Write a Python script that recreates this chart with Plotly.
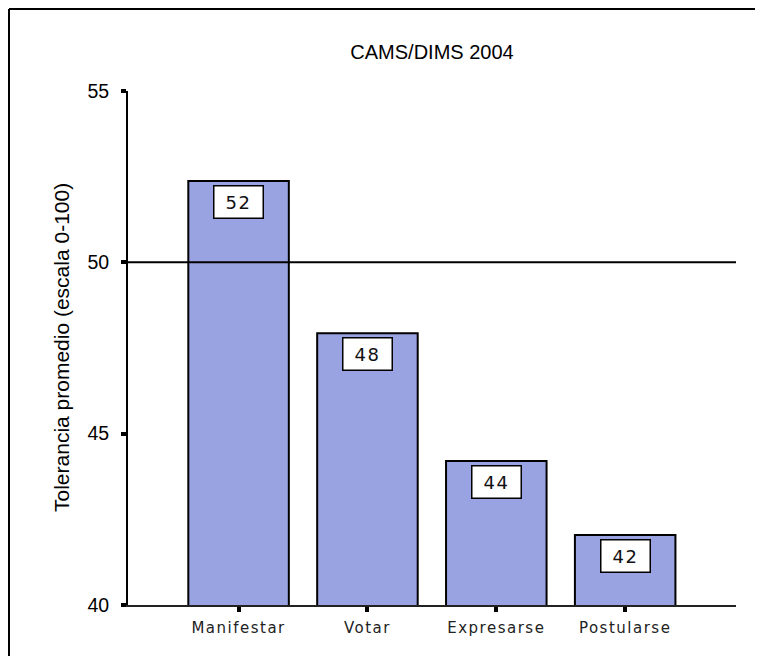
import plotly.graph_objects as go

categories = ["Manifestar", "Votar", "Expresarse", "Postularse"]
values = [52.37, 47.93, 44.20, 42.04]
value_labels = ["52", "48", "44", "42"]
y_ticks = [40, 45, 50, 55]
reference_value = 50
title_text = "CAMS/DIMS 2004"
y_title = "Tolerancia promedio (escala 0-100)"

# page body has an 8px margin; figure is sized/positioned to compensate
W, H = 755, 648
ML, MR, MT, MB = 120, 27, 83, 51
plot_w = W - ML - MR
plot_h = H - MT - MB

bar_color = "#9AA3E2"

fig = go.Figure()
fig.add_trace(go.Bar(
    x=categories, y=values, width=0.78,
    marker=dict(color=bar_color, line=dict(color="black", width=2)),
    hoverinfo="x+y", showlegend=False,
))

annotations = []
for c, v, lab in zip(categories, values, value_labels):
    annotations.append(dict(
        x=c, y=v, xref="x", yref="y",
        text='<span style="letter-spacing:1.5px">' + lab + '</span>',
        showarrow=False, yanchor="top", xanchor="center", yshift=-4,
        width=46, height=29, bgcolor="white", bordercolor="black",
        borderwidth=1.5, borderpad=1,
        font=dict(family="DejaVu Sans", size=18, color="#111"),
    ))

# y-axis title
annotations.append(dict(
    x=0, y=0.5, xref="paper", yref="paper", text=y_title, showarrow=False,
    textangle=-90, xanchor="center", yanchor="middle", xshift=53 - ML,
    font=dict(family="Liberation Sans", size=21, color="black"),
))

# reference line and frame
shapes = [
    dict(type="line", xref="paper", yref="y", x0=0, x1=1, y0=reference_value, y1=reference_value,
         line=dict(color="black", width=2), layer="above"),
    dict(type="line", xref="paper", yref="paper",
         x0=(1 - ML) / plot_w, x1=(W - ML) / plot_w,
         y0=(H - MB - 1) / plot_h, y1=(H - MB - 1) / plot_h,
         line=dict(color="black", width=2)),
    dict(type="line", xref="paper", yref="paper",
         x0=(1 - ML) / plot_w, x1=(1 - ML) / plot_w,
         y0=(H - MB - 1) / plot_h, y1=-(MB + 2) / plot_h,
         line=dict(color="black", width=2)),
]

tick_text = ['<span style="letter-spacing:1.5px">' + c + '</span>' for c in categories]

fig.update_layout(
    width=W, height=H,
    margin=dict(l=ML, r=MR, t=MT, b=MB, pad=0),
    paper_bgcolor="white", plot_bgcolor="white",
    title=dict(text=title_text, x=0.5, xref="paper", xanchor="center",
               y=1 - 44 / H, yref="container", yanchor="middle",
               font=dict(family="Liberation Sans", size=20, color="black")),
    xaxis=dict(
        range=[-0.858, 3.860], showgrid=False, zeroline=False,
        tickmode="array", tickvals=categories, ticktext=tick_text,
        showline=True, linecolor="#222", linewidth=1.5,
        ticks="outside", ticklen=5, tickwidth=4, tickcolor="black",
        tickfont=dict(family="DejaVu Sans", size=15, color="#222"),
        ticklabelstandoff=3,
    ),
    yaxis=dict(
        range=[40, 55], tickvals=y_ticks, showgrid=False, zeroline=False,
        showline=True, linecolor="black", linewidth=2,
        ticks="outside", ticklen=5, tickwidth=4, tickcolor="black",
        tickfont=dict(family="Liberation Sans", size=19.5, color="black"),
        ticklabelstandoff=8,
    ),
    annotations=annotations,
    shapes=shapes,
)

fig.write_html("out.html")
